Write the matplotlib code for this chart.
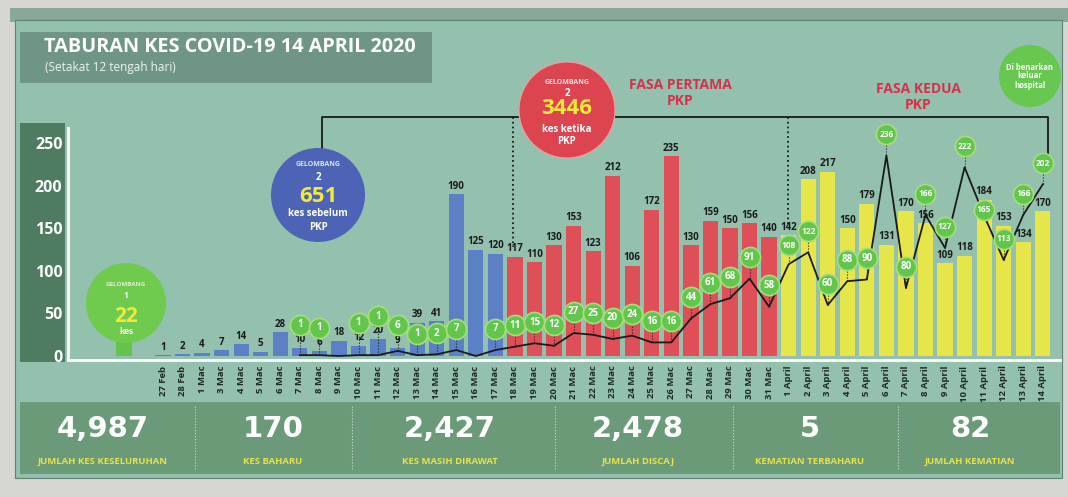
import matplotlib
matplotlib.use('Agg')
import matplotlib.pyplot as plt
from matplotlib.patches import Circle, Rectangle
import numpy as np

plt.rcParams['font.family'] = ['Open Sans', 'DejaVu Sans']
plt.rcParams['font.weight'] = 'bold'

# data
dates = ['27 Feb', '28 Feb', '1 Mac', '3 Mac', '4 Mac', '5 Mac', '6 Mac', '7 Mac',
         '8 Mac', '9 Mac', '10 Mac', '11 Mac', '12 Mac', '13 Mac', '14 Mac', '15 Mac',
         '16 Mac', '17 Mac', '18 Mac', '19 Mac', '20 Mac', '21 Mac', '22 Mac', '23 Mac',
         '24 Mac', '25 Mac', '26 Mac', '27 Mac', '28 Mac', '29 Mac', '30 Mac', '31 Mac',
         '1 April', '2 April', '3 April', '4 April', '5 April', '6 April', '7 April',
         '8 April', '9 April', '10 April', '11 April', '12 April', '13 April', '14 April']
cases_sebelum_pkp = [1, 2, 4, 7, 14, 5, 28, 10, 6, 18, 12, 20, 9, 39, 41, 190, 125, 120]
cases_fasa1 = [117, 110, 130, 153, 123, 212, 106, 172, 235, 130, 159, 150, 156, 140]
cases_fasa2 = [142, 208, 217, 150, 179, 131, 170, 156, 109, 118, 184, 153, 134, 170]
discaj = [None] * 7 + [1, 1, None, 1, 1, 6, 1, 2, 7, None, 7,
                       11, 15, 12, 27, 25, 20, 24, 16, 16, 44, 61, 68, 91, 58,
                       108, 122, 60, 88, 90, 236, 80, 166, 127, 222, 165, 113, 166, 202]
gelombang1 = 22

stat_values = ['4,987', '170', '2,427', '2,478', '5', '82']
stat_labels = ['JUMLAH KES KESELURUHAN', 'KES BAHARU', 'KES MASIH DIRAWAT',
               'JUMLAH DISCAJ', 'KEMATIAN TERBAHARU', 'JUMLAH KEMATIAN']

cases = cases_sebelum_pkp + cases_fasa1 + cases_fasa2
colors = (['#5b80c6'] * len(cases_sebelum_pkp) + ['#df4f58'] * len(cases_fasa1)
          + ['#e6e64a'] * len(cases_fasa2))
x = np.arange(len(dates))

fig = plt.figure(figsize=(10.68, 4.97), dpi=100, facecolor='#d6d7d1')

# latar belakang (koordinat piksel)
bg = fig.add_axes([0, 0, 1, 1])
bg.set_xlim(0, 1068)
bg.set_ylim(497, 0)
bg.axis('off')
bg.add_patch(Rectangle((10, 8), 1058, 14, fc='#88a898', ec='none'))
bg.add_patch(Rectangle((15, 20), 1047, 458, fc='#93c1ae', ec='#5f7f70', lw=0.8))
bg.add_patch(Rectangle((20, 32), 412, 51, fc='#6f9685', ec='none'))
bg.add_patch(Rectangle((20, 123), 45, 239, fc='#4f7b60', ec='none'))
bg.add_patch(Rectangle((20, 402), 1040, 72, fc='#6a9a78', ec='none'))
bg.text(44, 47, 'TABURAN KES COVID-19 14 APRIL 2020', color='white', fontsize=14.3,
        fontweight='bold', va='center')
bg.text(45, 68, '(Setakat 12 tengah hari)', color='#eef4ef', fontsize=8.5,
        fontweight='normal', va='center')

# carta utama
ax = fig.add_axes([68 / 1068, 1 - 360 / 497, 992 / 1068, 300 / 497])
ax.set_facecolor('none')
ax.set_xlim(-4.86, 45.88)
ax.set_ylim(-4.7, 348.2)

ax.bar(-2, gelombang1, width=0.78, color='#62c44a')
ax.bar(x, cases, width=0.78, color=colors)
for i, v in zip(x, cases):
    ax.text(i, v + 3, str(v), ha='center', va='bottom', fontsize=7, color='#1a1a1a')

# garisan discaj
line_x = x[7:]
line_y = [d if d is not None else 0 for d in discaj[7:]]
ax.plot(line_x, line_y, color='#1a1a1a', lw=1.3, zorder=3)
off = 25
for i, v, d in zip(x, cases, discaj):
    if d is None:
        continue
    c = d + off
    # elak bertindih dengan label bar
    if abs(c - (v + 7.5)) < 17:
        c = v + 27 if v < 60 else v - 12
    ax.plot([i, i], [d, max(c - 10, d)], color='#1a1a1a', lw=0.8, ls=':', zorder=3)
    ax.scatter(i, c, s=210, color='#63c64c', edgecolor='#a6de7c', lw=1.2, zorder=4)
    ax.text(i, c, str(d), ha='center', va='center', fontsize=6 if d > 99 else 7,
            color='white', zorder=5)

# kurungan PKP
ax.plot([8.13, 8.13, 45.27, 45.27], [242, 281, 281, 234], color='#1a1a1a', lw=1.3,
        clip_on=False)
ax.plot([17.9, 17.9], [281, 128], color='#1a1a1a', lw=1.3, ls=':')
ax.plot([31.95, 31.95], [281, 150], color='#1a1a1a', lw=1.3, ls=':')

ax.set_yticks(range(0, 251, 50))
ax.set_xticks(x)
ax.set_xticklabels(dates)
ax.tick_params(axis='y', length=0, labelsize=11.5, labelcolor='white', pad=4)
ax.tick_params(axis='x', length=0, labelsize=6.8, labelcolor='#1e2a22', rotation=90, pad=4)
for s in ['top', 'right']:
    ax.spines[s].set_visible(False)
ax.spines['left'].set_color('white')
ax.spines['left'].set_linewidth(2)
ax.spines['left'].set_bounds(-4.7, 268)
ax.spines['bottom'].set_color('white')
ax.spines['bottom'].set_linewidth(2)

# anotasi bulatan (koordinat piksel)
ov = fig.add_axes([0, 0, 1, 1], zorder=5)
ov.set_xlim(0, 1068)
ov.set_ylim(497, 0)
ov.axis('off')
ov.patch.set_alpha(0)

ov.add_patch(Circle((126, 303), 40, fc='#6fcb4e', ec='none'))
ov.text(126, 285, 'GELOMBANG', ha='center', va='center', fontsize=4.5, color='#dff3cf')
ov.text(126, 295, '1', ha='center', va='center', fontsize=6, color='white')
ov.text(126, 316, '22', ha='center', va='center', fontsize=15, color='#f2e93b')
ov.text(126, 332, 'kes', ha='center', va='center', fontsize=6, color='white')

ov.add_patch(Circle((318, 195), 47, fc='#4c63b6', ec='none'))
ov.text(318, 165, 'GELOMBANG', ha='center', va='center', fontsize=5, color='#dfe4f5')
ov.text(318, 177, '2', ha='center', va='center', fontsize=7, color='white')
ov.text(318, 196, '651', ha='center', va='center', fontsize=16, color='#f2e93b')
ov.text(318, 213, 'kes sebelum', ha='center', va='center', fontsize=7, color='white')
ov.text(318, 227, 'PKP', ha='center', va='center', fontsize=7, color='white')

ov.add_patch(Circle((567, 110), 48, fc='#dc4450', ec='#f0a0a0', lw=0.8))
ov.text(567, 83, 'GELOMBANG', ha='center', va='center', fontsize=5, color='#f8e0e0')
ov.text(567, 93, '2', ha='center', va='center', fontsize=7, color='white')
ov.text(567, 109, '3446', ha='center', va='center', fontsize=16, color='#f2e93b')
ov.text(567, 129, 'kes ketika', ha='center', va='center', fontsize=7, color='white')
ov.text(567, 142, 'PKP', ha='center', va='center', fontsize=7, color='white')

ov.add_patch(Circle((1030, 76), 31, fc='#66c84f', ec='none'))
ov.text(1030, 76, 'Di benarkan\nkeluar\nhospital', ha='center', va='center',
        fontsize=5.5, color='white', linespacing=1.0)

ov.text(680, 93, 'FASA PERTAMA\nPKP', ha='center', va='center', fontsize=10,
        color='#d6304a', linespacing=1.25)
ov.text(918, 97, 'FASA KEDUA\nPKP', ha='center', va='center', fontsize=10,
        color='#d6304a', linespacing=1.25)

# jalur statistik bawah
stat_x = [103, 273, 450, 638, 810, 970]
for sx, val, lab in zip(stat_x, stat_values, stat_labels):
    ov.text(sx, 429, val, ha='center', va='center', fontsize=21, color='white',
            fontweight='bold', family='DejaVu Sans')
    ov.text(sx, 462, lab, ha='center', va='center', fontsize=6.8, color='#e8e34a')
for dx in [195, 352, 555, 733, 898]:
    ov.plot([dx, dx], [406, 470], color='#c9dcc9', lw=0.8, ls=':')

fig.savefig('out.png', dpi=100, facecolor=fig.get_facecolor())
